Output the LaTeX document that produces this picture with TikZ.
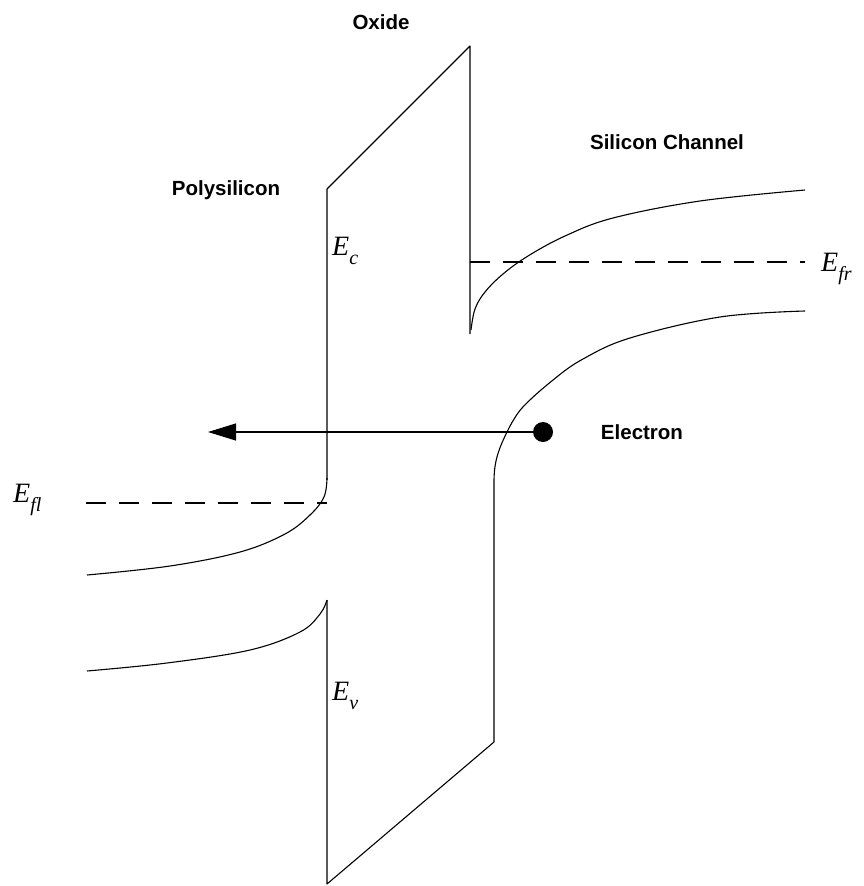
\documentclass[tikz,border=0pt]{standalone}
\usepackage{fontspec}
\setmainfont{Liberation Sans}
\newfontfamily\tmsfont{Liberation Serif}
\usetikzlibrary{arrows.meta}
\tikzset{
  band/.style={line width=1.1pt, line join=round},
  fermi/.style={line width=1.1pt, dash pattern=on 20pt off 13pt},
  lbl/.style={font=\fontsize{20.5}{24}\selectfont\bfseries, inner sep=0pt},
  elbl/.style={font=\fontsize{28}{32}\selectfont\tmsfont\itshape, inner sep=0pt, anchor=base west},
}
\newcommand{\esub}[1]{\raisebox{-0.35em}{\fontsize{20}{24}\selectfont #1}}
\begin{document}
\begin{tikzpicture}[x=1pt,y=-1pt]
\useasboundingbox (0,0) rectangle (863,886);
% oxide barrier top
\draw[band] (327,480) -- (327,189) -- (470,46) -- (470,334);
% left conduction band
\draw[band] plot[smooth, tension=0.6] coordinates {(327,478) (324,497) (310,515) (285,534) (240,552) (170,566) (87,575)};
% left valence band
\draw[band] plot[smooth, tension=0.6] coordinates {(87,671) (167,663) (250,650) (300,632) (320,614) (327,600)};
\draw[band] (327,600) -- (327,884) -- (494,742);
% right conduction band
\draw[band] plot[smooth, tension=0.6] coordinates {(471,330) (475,309) (485,292) (503,274) (528,256) (565,236) (613,218) (700,201) (805,190)};
% right valence band
\draw[band] plot[smooth, tension=0.6] coordinates {(805,311) (720,317) (630,338) (583,359) (553,380) (522,408) (508,430)}
  .. controls (498,450) and (494,462) .. (494,482) -- (494,742);
% Fermi levels
\draw[fermi] (86,503) -- (327,503);
\draw[fermi] (470,262) -- (805,262);
% electron and arrow
\coordinate (e) at (543,432);
\coordinate (tip) at (208,432);
\fill (e) circle[radius=10];
\draw[line width=1.1pt, -{Triangle[length=28pt,width=17pt]}] (e) -- (tip);
% labels
\node[lbl] (ox) at (381,22) {Oxide};
\node[lbl] (poly) at (226,190) {Polysilicon};
\node[lbl] (sic) at (667,142) {Silicon Channel};
\node[lbl] (el) at (642,432) {Electron};
\node[elbl] (ec) at (332,255) {E\esub{c}};
\node[elbl] (ev) at (332,700) {E\esub{v}};
\node[elbl] (efl) at (13,502) {E\esub{fl}};
\node[elbl] (efr) at (821,271) {E\esub{fr}};
\end{tikzpicture}
\end{document}
